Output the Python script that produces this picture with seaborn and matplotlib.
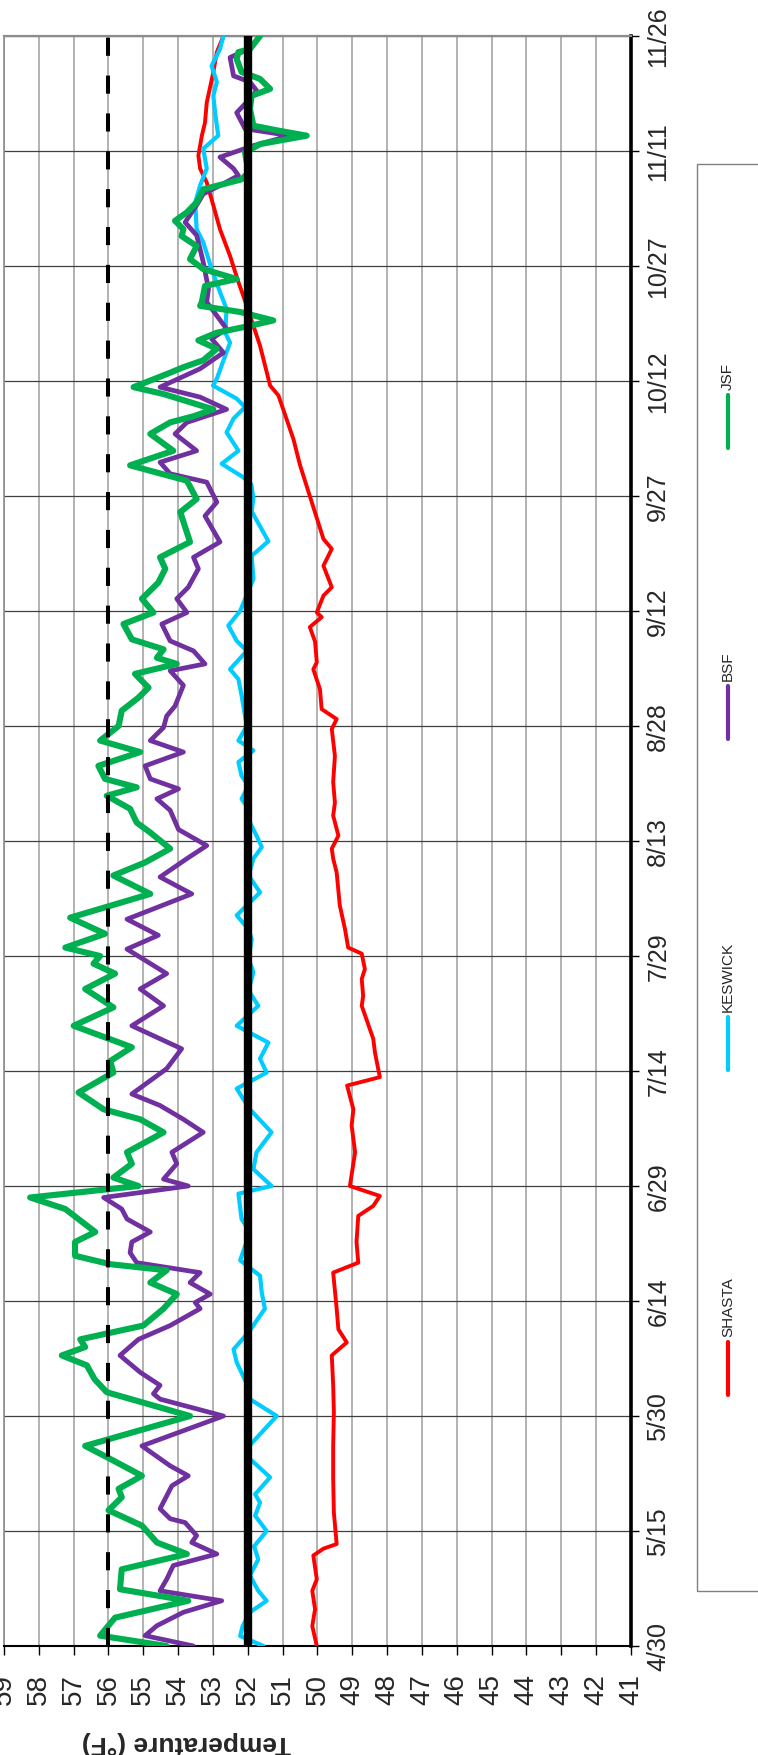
import numpy as np
import matplotlib.pyplot as plt
import seaborn as sns
from matplotlib.lines import Line2D
from matplotlib.patches import Rectangle

sns.set_style("white")
plt.rcParams["font.family"] = ["Liberation Sans", "DejaVu Sans"]

# Date axis: days after 4/30, labelled every 15 days
date_ticks = np.arange(0, 211, 15)
date_labels = ["4/30", "5/15", "5/30", "6/14", "6/29", "7/14", "7/29", "8/13",
               "8/28", "9/12", "9/27", "10/12", "10/27", "11/11", "11/26"]
temp_ticks = np.arange(41, 60)

# Criteria lines (°F)
dashed_criterion = 56
solid_criterion = 52

# Daily temperatures (day offset from 4/30, °F)
shasta_day = [0, 2.6, 4.8, 7.2, 8.7, 11.8, 12.7, 13.3, 17.4, 21.8, 26.1, 30.5, 34.0,
              37.9, 39.6, 41.3, 44.0, 48.7, 50.0, 52.7, 56.1, 57.4, 58.7, 60.0, 64.4,
              67.9, 70.0, 73.1, 74.2, 77.4, 79.2, 83.5, 84.8, 87.0, 88.3, 90.3, 91.1,
              93.5, 96.6, 100.9, 102.7, 104.0, 105.7, 108.3, 110.0, 112.7, 116.1, 119.6,
              120.9, 122.2, 124.8, 127.4, 128.3, 131.0, 132.9, 134.2, 134.8, 137.0,
              138.1, 140.9, 143.1, 144.4, 154.0, 157.4, 163.1, 164.4, 169.6, 172.2,
              174.8, 177.9, 181.3, 184.8, 187.9, 190.9, 192.7, 194.4, 197.0, 198.7,
              201.3, 205.3, 207.9, 210.0]
shasta_temp = [50.02, 50.15, 50.07, 50.15, 50.02, 50.12, 49.83, 49.45, 49.53, 49.55, 49.55,
               49.53, 49.55, 49.59, 49.16, 49.40, 49.45, 49.55, 48.83, 48.88, 48.83, 48.40,
               48.21, 49.07, 48.92, 49.02, 48.97, 49.15, 48.21, 48.35, 48.40, 48.73, 48.69,
               48.73, 48.64, 48.73, 49.12, 49.21, 49.36, 49.45, 49.55, 49.59, 49.40, 49.55,
               49.50, 49.55, 49.50, 49.59, 49.45, 49.88, 49.93, 50.12, 50.02, 50.07, 50.22,
               49.88, 50.02, 49.83, 49.59, 49.83, 49.59, 49.83, 50.50, 50.69, 51.12, 51.36,
               51.65, 51.84, 52.03, 52.27, 52.51, 52.80, 52.99, 53.18, 53.37, 53.42, 53.32,
               53.23, 53.18, 52.99, 52.89, 52.70]

keswick_day = [0, 1.3, 2.6, 4.4, 5.9, 7.2, 9.2, 11.3, 13.0, 15.0, 17.0, 18.7, 19.8, 22.0,
               24.4, 26.0, 30.0, 32.2, 34.2, 37.0, 38.7, 40.9, 44.0, 46.1, 48.3, 50.3,
               54.0, 55.7, 59.0, 60.0, 62.2, 64.4, 67.0, 70.0, 72.7, 74.8, 76.6, 78.7,
               80.9, 83.5, 85.5, 87.9, 89.6, 92.2, 93.5, 95.3, 98.3, 100.5, 102.7, 104.2,
               105.7, 107.4, 109.2, 110.5, 112.2, 113.5, 115.3, 116.8, 118.1, 120.0, 124.0,
               126.1, 127.4, 129.8, 131.1, 133.1, 135.0, 139.2, 142.2, 144.1, 148.0, 149.7,
               151.5, 152.5, 154.2, 155.9, 158.3, 160.1, 161.6, 162.7, 164.4, 165.3, 168.3,
               170.0, 171.3, 174.4, 176.6, 179.6, 183.1, 184.8, 188.3, 190.5, 192.7, 195.3,
               197.0, 200.0, 202.2, 204.0, 206.1, 208.3, 210.0]
keswick_temp = [51.55, 52.22, 52.15, 51.94, 51.46, 51.70, 51.94, 51.70, 51.82, 51.46, 51.79,
                51.65, 51.79, 51.36, 51.94, 51.98, 51.17, 51.94, 52.03, 52.32, 52.41, 51.98,
                51.51, 51.60, 51.65, 52.22, 51.94, 52.18, 52.27, 51.32, 51.84, 51.75, 51.32,
                51.94, 52.32, 51.46, 51.65, 51.41, 52.32, 51.70, 51.98, 51.84, 51.98, 51.89,
                51.98, 52.32, 51.65, 51.98, 51.84, 51.60, 51.75, 51.94, 51.98, 52.18, 51.98,
                52.18, 52.27, 51.84, 52.27, 52.03, 52.18, 52.27, 52.51, 52.03, 52.32, 52.56,
                52.22, 51.84, 51.89, 51.41, 51.89, 51.84, 51.90, 52.15, 52.75, 52.27, 52.61,
                52.41, 52.08, 52.32, 53.00, 52.89, 52.65, 52.51, 52.65, 52.61, 52.80, 53.04,
                53.28, 53.47, 53.51, 53.37, 53.18, 53.28, 52.85, 52.94, 52.99, 52.89, 53.04,
                52.80, 52.70]

bsf_day = [0, 1.35, 2.65, 4.4, 5.9, 7.2, 8.7, 10.5, 12.0, 13.5, 14.4, 16.1, 16.6, 17.9,
           20.9, 22.2, 23.5, 26.1, 30.0, 32.2, 32.9, 34.0, 35.7, 37.9, 40.0, 41.8, 44.0,
           44.8, 45.9, 47.4, 48.7, 50.0, 51.3, 52.7, 54.0, 55.7, 57.0, 58.5, 60.0, 60.9,
           62.9, 64.4, 67.0, 68.7, 70.5, 72.0, 75.3, 77.9, 80.9, 83.5, 85.7, 87.7, 90.9,
           92.7, 94.8, 98.1, 100.3, 102.7, 104.4, 106.5, 109.0, 110.5, 111.8, 113.1, 114.8,
           116.6, 118.1, 119.8, 121.3, 122.6, 125.3, 127.2, 128.1, 129.8, 131.1, 133.3,
           134.8, 136.6, 138.1, 140.5, 142.0, 144.0, 147.4, 149.2, 151.8, 152.9, 154.4,
           155.9, 158.1, 159.6, 161.3, 162.9, 164.2, 166.6, 168.7, 170.5, 171.8, 175.3,
           177.0, 180.5, 182.2, 184.0, 185.7, 188.3, 189.4, 190.5, 191.8, 192.7, 194.2,
           195.7, 197.0, 197.9, 200.0, 201.8, 202.9, 204.0, 204.8, 207.2, 208.3, 210.0]
bsf_temp = [53.56, 54.95, 54.61, 53.85, 52.75, 54.52, 54.33, 54.14, 52.89, 53.61, 53.47,
            53.80, 54.23, 54.52, 54.18, 53.71, 54.23, 55.04, 52.70, 54.52, 54.71, 54.52,
            55.09, 55.67, 55.14, 54.23, 53.37, 53.51, 53.08, 53.66, 53.37, 55.19, 55.38,
            55.33, 54.80, 55.47, 55.62, 56.14, 53.71, 54.42, 54.04, 54.18, 53.28, 53.85,
            54.52, 55.33, 54.33, 53.90, 55.33, 54.42, 55.09, 54.33, 55.47, 54.57, 55.47,
            53.61, 54.52, 53.75, 53.18, 53.99, 54.23, 54.61, 53.99, 54.80, 54.95, 53.85,
            54.80, 54.42, 54.33, 54.09, 53.85, 54.23, 53.23, 53.56, 54.23, 54.47, 53.75,
            54.04, 53.71, 53.42, 53.56, 52.80, 53.23, 52.89, 53.18, 54.23, 54.52, 53.47,
            54.09, 53.75, 52.61, 53.37, 54.52, 53.37, 52.70, 53.04, 52.61, 53.18, 53.13,
            53.28, 53.37, 53.47, 53.80, 53.42, 53.28, 52.80, 52.27, 52.41, 52.80, 51.84,
            50.79, 52.08, 52.32, 51.94, 51.75, 51.94, 52.41, 52.51, 51.98, 51.94]

jsf_day = [0, 1.35, 3.7, 5.9, 7.4, 10.0, 12.0, 13.5, 15.7, 17.7, 19.4, 20.5, 22.2, 24.4,
           26.1, 30.0, 33.1, 34.8, 36.6, 37.9, 39.0, 40.0, 41.8, 44.0, 45.9, 47.4, 49.0,
           49.8, 50.9, 52.7, 54.0, 57.0, 58.5, 60.0, 61.1, 62.9, 64.4, 67.0, 68.7, 70.0,
           72.2, 74.8, 76.3, 78.1, 80.9, 83.3, 85.7, 87.7, 89.0, 90.0, 91.1, 92.9, 95.0,
           98.1, 100.5, 102.2, 104.0, 106.1, 107.4, 109.2, 110.9, 112.0, 113.1, 114.8,
           116.6, 118.1, 120.0, 122.0, 123.7, 125.0, 126.8, 128.1, 128.9, 130.0, 131.3,
           133.3, 134.8, 136.6, 138.7, 140.5, 142.0, 144.0, 147.9, 149.6, 152.0, 154.0,
           155.9, 158.1, 159.6, 160.4, 161.3, 163.3, 164.2, 165.9, 166.8, 167.7, 169.2,
           170.3, 171.3, 172.2, 172.9, 174.0, 174.8, 175.3, 177.4, 178.3, 179.6, 180.9,
           182.6, 183.9, 184.8, 185.9, 187.0, 188.3, 190.0, 191.3, 192.2, 194.8, 195.9,
           197.0, 197.7, 198.3, 200.5, 202.2, 203.1, 204.4, 205.3, 207.0, 207.9, 208.3,
           210.0]
jsf_temp = [54.33, 56.24, 55.81, 53.71, 55.67, 55.62, 53.75, 54.61, 55.04, 56.00, 55.62,
            55.71, 55.04, 55.95, 56.67, 53.66, 56.05, 56.40, 56.62, 57.34, 56.67, 56.81,
            55.00, 54.42, 54.04, 54.80, 54.33, 55.95, 56.96, 56.96, 56.38, 57.24, 58.25,
            55.14, 55.86, 55.33, 55.47, 54.42, 55.09, 56.14, 56.86, 55.86, 55.95, 55.33,
            57.00, 55.86, 56.67, 55.81, 56.43, 56.24, 57.24, 56.10, 57.10, 54.80, 55.86,
            54.95, 54.23, 54.80, 55.19, 55.38, 56.05, 55.19, 56.10, 56.29, 55.09, 56.24,
            55.71, 55.62, 55.14, 54.85, 55.24, 54.04, 54.61, 54.42, 55.33, 55.57, 54.71,
            55.04, 54.57, 54.37, 54.52, 53.66, 53.94, 53.47, 53.75, 55.38, 54.14, 54.80,
            54.23, 53.56, 52.99, 54.42, 55.28, 54.33, 53.85, 53.28, 52.89, 53.42, 52.89,
            51.94, 51.27, 52.22, 53.37, 53.32, 53.23, 52.32, 53.28, 53.66, 53.47, 53.90,
            53.85, 54.09, 53.75, 53.47, 53.28, 52.18, 51.98, 52.08, 51.65, 50.31, 51.17,
            51.84, 51.94, 51.89, 51.36, 51.65, 52.18, 52.32, 52.27, 51.94, 51.65]

series_names = ["SHASTA", "KESWICK", "BSF", "JSF"]
series_days = [shasta_day, keswick_day, bsf_day, jsf_day]
series_temps = [shasta_temp, keswick_temp, bsf_temp, jsf_temp]
series_colors = ["#FF0000", "#00CCFF", "#7030A0", "#00B050"]
series_widths = [2.8, 3.0, 3.4, 4.4]

W, H = 758, 1756
fig = plt.figure(figsize=(W / 100, H / 100), dpi=100)
# chart is drawn turned a quarter turn: temperature runs right-to-left, dates bottom-to-top
ax = fig.add_axes([4 / W, 109 / H, 627 / W, 1610 / H])

for name, d, t, c, lw in zip(series_names, series_days, series_temps,
                             series_colors, series_widths):
    sns.lineplot(x=t, y=d, orient="y", sort=False, estimator=None, color=c,
                 linewidth=lw, ax=ax, legend=False, zorder=3,
                 solid_joinstyle="round", solid_capstyle="round")

ax.axvline(solid_criterion, color="black", linewidth=6, zorder=4)
ax.axvline(dashed_criterion, color="black", linewidth=2.9,
           dashes=(4.5, 4.9), zorder=4)

ax.set_xlim(59, 41)
ax.set_ylim(0, 210)
ax.set_xticks(temp_ticks)
ax.set_xticklabels([str(v) for v in temp_ticks])
ax.set_yticks(date_ticks)
ax.set_yticklabels(date_labels)
ax.yaxis.tick_right()
ax.set_xlabel("")
ax.set_ylabel("")

ax.tick_params(axis="x", bottom=True, direction="out", length=6.5, width=1,
               labelsize=20, labelrotation=90, pad=13, color="black")
ax.tick_params(axis="y", right=True, left=False, direction="out", length=6,
               width=1, labelsize=18, labelrotation=90, pad=5, color="black")
for lab in ax.get_yticklabels():
    lab.set_va("center")

ax.set_axisbelow(True)
ax.xaxis.grid(True, color="#a6a6a6", linewidth=1.2)
ax.yaxis.grid(True, color="#404040", linewidth=0.9)

ax.spines["top"].set_color("#8c8c8c")
ax.spines["top"].set_linewidth(1.6)
ax.spines["left"].set_color("#8c8c8c")
ax.spines["left"].set_linewidth(1.2)
ax.spines["right"].set_color("black")
ax.spines["right"].set_linewidth(2.6)
ax.spines["bottom"].set_color("black")
ax.spines["bottom"].set_linewidth(1.5)

fig.text(186 / W, 1 - 1743 / H, "Temperature (°F)", rotation=180, fontsize=19,
         fontweight="bold", ha="center", va="center")

# legend box, turned with the chart and running off the right edge
fig.add_artist(Rectangle((697 / W, 1 - 1592 / H), 0.2, (1592 - 165) / H,
                         transform=fig.transFigure, fill=False,
                         edgecolor="#808080", linewidth=1))
legend_line_top = [1343, 1018, 687, 396]
legend_line_len = 53
for name, c, top in zip(series_names, series_colors, legend_line_top):
    fig.add_artist(Line2D([728 / W, 728 / W],
                          [1 - (top + legend_line_len) / H, 1 - top / H],
                          transform=fig.transFigure, color=c, linewidth=3,
                          solid_capstyle="round"))
    fig.text(728 / W, 1 - (top - 6) / H, name, rotation=90, fontsize=11,
             ha="center", va="bottom")

fig.savefig("out.png", dpi=100)
